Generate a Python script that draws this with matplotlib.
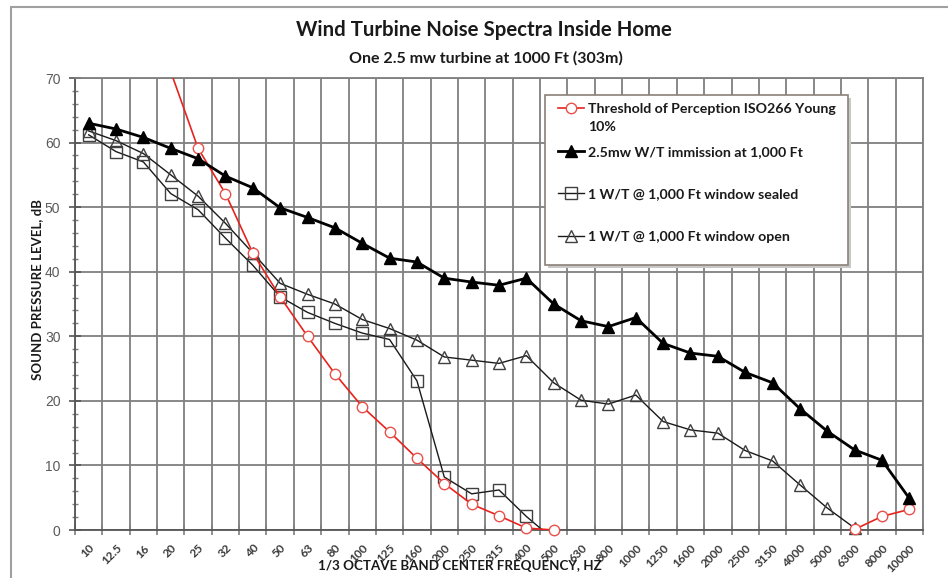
import numpy as np
import matplotlib
matplotlib.use("Agg")
import matplotlib.pyplot as plt
from matplotlib.lines import Line2D
from matplotlib.patches import Rectangle

nan = np.nan

freq_labels = ["10", "12.5", "16", "20", "25", "32", "40", "50", "63", "80",
               "100", "125", "160", "200", "250", "315", "400", "500", "630",
               "800", "1000", "1250", "1600", "2000", "2500", "3150", "4000",
               "5000", "6300", "8000", "10000"]

threshold = [nan, nan, nan, 71.0, 59.1, 52.1, 42.9, 36.1, 30.0, 24.2, 19.1, 15.2,
             11.1, 7.2, 4.0, 2.2, 0.3, 0.0, -1.5, -3.0, -3.5, -3.0, -3.0, -4.0,
             -5.0, -5.0, -5.0, -3.0, 0.1, 2.1, 3.2]

immission = [63.0, 62.1, 60.8, 59.1, 57.5, 54.8, 53.0, 49.9, 48.4, 46.8, 44.4,
             42.1, 41.5, 39.0, 38.4, 37.9, 39.0, 35.0, 32.4, 31.5, 32.9, 28.9,
             27.4, 26.9, 24.4, 22.8, 18.8, 15.3, 12.4, 10.8, 4.9]

sealed = [61.2, 58.6, 57.0, 52.1, 49.6, 45.2, 41.0, 36.1, 33.7, 32.0, 30.5,
          29.5, 23.1, 8.2, 5.6, 6.2, 2.1, -1.5, nan, nan, nan, nan, nan, nan,
          nan, nan, nan, nan, nan, nan, nan]

window_open = [61.8, 60.3, 58.3, 55.0, 51.7, 47.5, 42.9, 38.2, 36.5, 35.0, 32.6,
               31.2, 29.4, 26.8, 26.3, 25.8, 27.0, 22.8, 20.1, 19.5, 20.9, 16.8,
               15.5, 15.0, 12.3, 10.7, 7.0, 3.4, 0.3, -3.0, nan]

series_labels = ["Threshold of Perception ISO266 Young\n10%",
                 "2.5mw W/T immission at 1,000 Ft",
                 "1 W/T @ 1,000 Ft window sealed",
                 "1 W/T @ 1,000 Ft window open"]

W, H = 948, 578
fig = plt.figure(figsize=(W / 100, H / 100), dpi=100)
fig.patch.set_facecolor("white")


def fx(px):
    return px / W


def fy(py):
    return 1 - py / H


L, R, T, B = 75, 923, 78, 530
ax = fig.add_axes([fx(L), fy(B), fx(R) - fx(L), fy(T) - fy(B)])

x = np.arange(len(freq_labels))
YMIN, YMAX = 0, 70

styles = [
    dict(line=dict(color="#e8231d", lw=1.2),
         marker=dict(marker="o", ms=7.5, mfc="white", mec="#e8504a", mew=1.0)),
    dict(line=dict(color="black", lw=2.0),
         marker=dict(marker="^", ms=8.5, mfc="black", mec="black", mew=1.0)),
    dict(line=dict(color="#1a1a1a", lw=1.0),
         marker=dict(marker="s", ms=8.0, mfc="none", mec="#404040", mew=1.0)),
    dict(line=dict(color="#1a1a1a", lw=1.0),
         marker=dict(marker="^", ms=9.0, mfc="none", mec="#404040", mew=1.0)),
]

data = [threshold, immission, sealed, window_open]
zorders = [5, 6, 4, 4]
for yv, st, z in zip(data, styles, zorders):
    y = np.asarray(yv, float)
    ax.plot(x, y, zorder=z, **st["line"])
    vis = np.where((y >= YMIN) & (y <= YMAX), y, np.nan)
    ax.plot(x, vis, linestyle="none", clip_on=False, zorder=z + 0.5, **st["marker"])

ax.set_xlim(-0.5, len(x) - 0.5)
ax.set_ylim(YMIN, YMAX)

# x axis: labels at category centres, grid/ticks at boundaries
ax.set_xticks(x)
ax.set_xticklabels(freq_labels, rotation=45, ha="right", va="top",
                   rotation_mode="anchor", fontsize=8.5, color="#3a3a3a",
                   family="Lato", fontweight="bold")
ax.set_xticks(np.arange(-0.5, len(x), 1.0), minor=True)
ax.tick_params(axis="x", which="major", length=0, pad=9)
ax.tick_params(axis="x", which="minor", length=7, direction="inout",
               color="#7f7f7f", width=1.2)

ax.set_yticks(np.arange(0, 71, 10))
ax.set_yticks(np.arange(0, 71, 2), minor=True)
ax.tick_params(axis="y", which="major", length=9, direction="inout",
               color="#555555", width=1.2, labelsize=10, labelcolor="#5a5a5a",
               pad=6)
ax.tick_params(axis="y", which="minor", length=5, direction="inout",
               color="#7f7f7f", width=1.0)
for lab in ax.get_yticklabels():
    lab.set_family("Liberation Sans")

ax.grid(True, axis="x", which="minor", color="#7f7f7f", lw=1.3)
ax.grid(True, axis="y", which="major", color="#7f7f7f", lw=1.3)
ax.set_axisbelow(True)
for s in ax.spines.values():
    s.set_color("#7f7f7f")
    s.set_linewidth(1.3)
ax.spines["left"].set_color("#555555")
ax.spines["bottom"].set_color("#555555")

# titles and axis labels
fig.text(fx(484), fy(30), "Wind Turbine Noise Spectra Inside Home", ha="center",
         va="center", fontsize=14.7, fontweight="bold", family="Lato", color="#1a1a1a")
fig.text(fx(486), fy(58), "One 2.5 mw turbine at 1000 Ft (303m)", ha="center",
         va="center", fontsize=11.5, fontweight="bold", family="Lato", color="#1a1a1a")
fig.text(fx(460), fy(566), "1/3 OCTAVE BAND CENTER FREQUENCY, HZ", ha="center",
         va="center", fontsize=9.6, fontweight="bold", family="Lato", color="#1a1a1a")
fig.text(fx(37), fy(290), "SOUND PRESSURE LEVEL, dB", ha="center", va="center",
         rotation=90, fontsize=9.5, fontweight="bold", family="Lato", color="#1a1a1a")

# outer frame
fig.patches.append(Rectangle((fx(11), fy(600)), fx(960) - fx(11), fy(7) - fy(600),
                             transform=fig.transFigure, fill=False,
                             edgecolor="#a0a0a0", lw=1.5, zorder=0))

# manual legend
lx0, ly0, lx1, ly1 = 545, 95, 848, 265
fig.patches.append(Rectangle((fx(lx0 + 3), fy(ly1 + 3)), fx(lx1) - fx(lx0), fy(ly0) - fy(ly1),
                             transform=fig.transFigure, facecolor="#c8c8c8",
                             edgecolor="none", zorder=9))
fig.patches.append(Rectangle((fx(lx0), fy(ly1)), fx(lx1) - fx(lx0), fy(ly0) - fy(ly1),
                             transform=fig.transFigure, facecolor="white",
                             edgecolor="#8a8078", lw=1.2, zorder=10))
row_y = [108, 151, 193, 236]
for lab, st, ry in zip(series_labels, styles, row_y):
    ln = Line2D([fx(558), fx(584)], [fy(ry), fy(ry)], transform=fig.transFigure,
                zorder=11, **st["line"])
    mk = Line2D([fx(571)], [fy(ry)], transform=fig.transFigure, linestyle="none",
                zorder=12, **st["marker"])
    fig.lines.extend([ln, mk])
    if "\n" in lab:
        fig.text(fx(588), fy(ry - 5), lab, ha="left", va="top", fontsize=10.2,
                 fontweight="bold", family="Lato", color="#1a1a1a",
                 linespacing=1.6, zorder=12)
    else:
        fig.text(fx(588), fy(ry), lab, ha="left", va="center_baseline", fontsize=10.2,
                 fontweight="bold", family="Lato", color="#1a1a1a", zorder=12)

fig.savefig("out.png", dpi=100)
